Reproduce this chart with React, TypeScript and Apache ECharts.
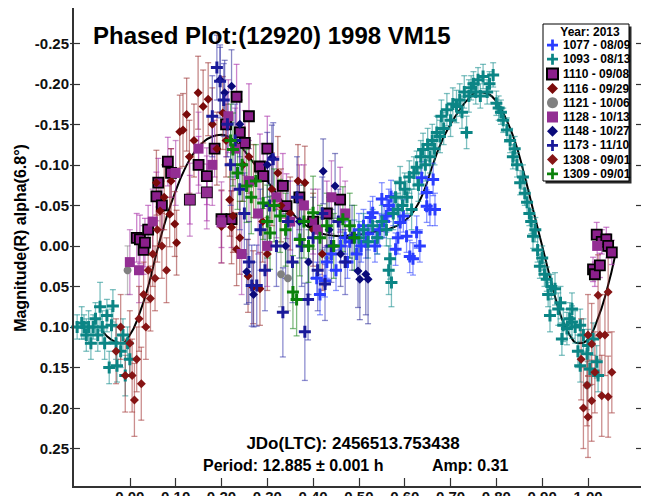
import React, { useEffect, useRef } from "react";
import * as echarts from "echarts";

// Phase axis and magnitude axis tick values
const xTicks = [0, 0.1, 0.2, 0.3, 0.4, 0.5, 0.6, 0.7, 0.8, 0.9, 1.0];
const yTicks = [-0.25, -0.2, -0.15, -0.1, -0.05, 0, 0.05, 0.1, 0.15, 0.2, 0.25];
const xRange = [-0.1306, 1.1266];
const yRange = [-0.2997, 0.2987];

// Each observation: [phase, magnitude, error]
const s1077 = [
  [0.408, 0.04, 0.02], [0.415, 0.06, 0.025], [0.426, 0.043, 0.02], [0.43, 0.02, 0.02],
  [0.44, 0.01, 0.02], [0.45, 0.03, 0.025], [0.46, 0.0, 0.02], [0.47, -0.01, 0.02],
  [0.475, 0.02, 0.02], [0.48, -0.005, 0.02], [0.49, -0.012, 0.02], [0.495, 0.01, 0.02],
  [0.5, -0.02, 0.02], [0.505, 0.0, 0.02], [0.51, -0.025, 0.02], [0.515, -0.005, 0.02],
  [0.52, -0.015, 0.02], [0.525, -0.035, 0.02], [0.53, -0.041, 0.02], [0.535, 0.0, 0.02],
  [0.54, -0.01, 0.02], [0.545, -0.02, 0.02], [0.55, -0.058, 0.02], [0.555, -0.03, 0.02],
  [0.56, -0.037, 0.02], [0.565, -0.05, 0.02], [0.57, -0.061, 0.02], [0.575, -0.045, 0.02],
  [0.58, 0.004, 0.02], [0.585, -0.01, 0.02], [0.59, -0.029, 0.02], [0.597, -0.037, 0.02],
  [0.604, -0.012, 0.02], [0.611, 0.013, 0.02], [0.618, 0.016, 0.02], [0.626, -0.017, 0.02],
  [0.633, 0.0, 0.02], [0.637, -0.084, 0.02], [0.648, -0.049, 0.02], [0.648, -0.066, 0.02],
  [0.655, -0.045, 0.02], [0.662, -0.082, 0.02], [0.666, -0.045, 0.02],
];
const s1093 = [
  [-0.115, 0.1, 0.015], [-0.105, 0.095, 0.02], [-0.1, 0.1, 0.015], [-0.095, 0.11, 0.02],
  [-0.09, 0.1, 0.02], [-0.085, 0.12, 0.02], [-0.08, 0.1, 0.015], [-0.075, 0.09, 0.02],
  [-0.07, 0.11, 0.02], [-0.065, 0.075, 0.03], [-0.06, 0.1, 0.02], [-0.055, 0.12, 0.02],
  [-0.05, 0.086, 0.02], [-0.045, 0.15, 0.02], [-0.04, 0.098, 0.02], [-0.037, 0.074, 0.02],
  [-0.03, 0.12, 0.02], [-0.028, 0.148, 0.02], [-0.02, 0.13, 0.02], [-0.015, 0.11, 0.02],
  [-0.01, 0.16, 0.025], [-0.005, 0.12, 0.02], [0.0, 0.14, 0.02],
  [0.5, -0.01, 0.02], [0.51, -0.02, 0.02], [0.52, -0.005, 0.02], [0.53, -0.025, 0.02],
  [0.54, -0.01, 0.02], [0.55, -0.03, 0.02], [0.56, -0.02, 0.02], [0.565, 0.03, 0.03],
  [0.568, 0.016, 0.025], [0.571, 0.045, 0.03], [0.575, -0.04, 0.02], [0.58, -0.06, 0.02],
  [0.585, -0.045, 0.02], [0.59, -0.078, 0.02], [0.595, -0.05, 0.02], [0.6, -0.07, 0.02],
  [0.605, -0.06, 0.02], [0.61, -0.085, 0.02], [0.615, -0.045, 0.025], [0.62, -0.09, 0.02],
  [0.626, -0.097, 0.02], [0.63, -0.075, 0.02], [0.635, -0.11, 0.02], [0.64, -0.119, 0.02],
  [0.645, -0.1, 0.02], [0.65, -0.125, 0.02], [0.655, -0.11, 0.02], [0.66, -0.13, 0.02],
  [0.665, -0.12, 0.02], [0.67, -0.14, 0.02], [0.677, -0.135, 0.02], [0.68, -0.16, 0.02],
  [0.685, -0.145, 0.02], [0.692, -0.168, 0.02], [0.7, -0.155, 0.02], [0.705, -0.175, 0.02],
  [0.713, -0.172, 0.02], [0.72, -0.18, 0.02], [0.725, -0.165, 0.02], [0.73, -0.19, 0.02],
  [0.735, -0.14, 0.02], [0.74, -0.185, 0.02], [0.745, -0.195, 0.015], [0.75, -0.2, 0.015],
  [0.755, -0.19, 0.015], [0.76, -0.205, 0.015], [0.765, -0.185, 0.015], [0.771, -0.209, 0.015],
  [0.78, -0.19, 0.015], [0.785, -0.2, 0.015], [0.793, -0.211, 0.015], [0.8, -0.176, 0.015],
  [0.805, -0.17, 0.015], [0.81, -0.165, 0.015], [0.815, -0.155, 0.015], [0.823, -0.143, 0.015],
  [0.83, -0.13, 0.015], [0.836, -0.11, 0.015], [0.84, -0.12, 0.015], [0.845, -0.1, 0.015],
  [0.852, -0.078, 0.015], [0.858, -0.085, 0.015], [0.862, -0.065, 0.015], [0.867, -0.054, 0.015],
  [0.872, -0.04, 0.015], [0.876, -0.03, 0.015], [0.88, -0.012, 0.015], [0.885, -0.02, 0.015],
  [0.89, 0.005, 0.015], [0.895, 0.025, 0.015], [0.9, 0.015, 0.015], [0.905, 0.035, 0.015],
  [0.91, 0.041, 0.015], [0.913, 0.06, 0.015], [0.917, 0.086, 0.02], [0.92, 0.05, 0.015],
  [0.928, 0.053, 0.02], [0.935, 0.078, 0.02], [0.94, 0.07, 0.02], [0.943, 0.115, 0.02],
  [0.946, 0.098, 0.02], [0.954, 0.102, 0.02], [0.96, 0.09, 0.02], [0.965, 0.094, 0.02],
  [0.965, 0.078, 0.02], [0.972, 0.1, 0.02], [0.978, 0.13, 0.02], [0.983, 0.098, 0.02],
  [0.983, 0.148, 0.02], [0.99, 0.11, 0.02], [0.998, 0.133, 0.02], [1.0, 0.123, 0.02],
  [1.004, 0.152, 0.02], [1.011, 0.115, 0.02], [1.019, 0.143, 0.02], [1.022, 0.16, 0.02],
];
const s1110 = [
  [0.015, -0.01, 0.03], [0.022, -0.008, 0.03], [0.03, 0.005, 0.03], [0.033, -0.004, 0.03],
  [0.04, -0.02, 0.03], [0.058, -0.061, 0.03], [0.062, -0.078, 0.03], [0.07, -0.05, 0.03],
  [0.083, -0.104, 0.03], [0.09, -0.09, 0.03], [0.131, -0.057, 0.03], [0.15, -0.1, 0.035],
  [0.168, -0.066, 0.035], [0.168, -0.086, 0.035], [0.185, -0.12, 0.035], [0.2, -0.033, 0.035],
  [0.21, -0.15, 0.04], [0.222, -0.033, 0.035], [0.233, -0.184, 0.04], [0.24, -0.14, 0.04],
  [0.251, -0.127, 0.04], [0.26, -0.16, 0.04], [0.284, -0.098, 0.04], [0.291, -0.086, 0.04],
  [0.3, -0.12, 0.04], [0.334, -0.074, 0.04], [0.342, -0.049, 0.04], [0.37, -0.06, 0.04],
  [0.4, -0.03, 0.04], [0.43, -0.04, 0.04], [0.459, -0.057, 0.04],
  [1.011, 0.029, 0.015], [1.015, 0.035, 0.015], [1.019, -0.014, 0.015], [1.026, 0.024, 0.015],
  [1.03, -0.005, 0.015], [1.04, -0.008, 0.015], [1.044, 0.0, 0.015], [1.052, 0.008, 0.015],
];
const s1116 = [
  [0.058, -0.078, 0.04], [0.066, -0.043, 0.04], [0.075, -0.06, 0.04], [0.087, -0.039, 0.04],
  [0.09, -0.08, 0.04], [0.098, -0.027, 0.04], [0.102, -0.004, 0.04], [0.109, -0.141, 0.045],
  [0.116, -0.143, 0.045], [0.124, -0.162, 0.045], [0.13, -0.11, 0.045], [0.14, -0.13, 0.045],
  [0.149, -0.189, 0.045], [0.16, -0.172, 0.045], [0.171, -0.181, 0.045], [0.18, -0.15, 0.045],
  [0.19, -0.12, 0.045], [0.2, -0.024, 0.045], [0.203, -0.164, 0.045], [0.21, -0.13, 0.045],
  [0.218, -0.057, 0.045], [0.222, -0.023, 0.045], [0.225, -0.037, 0.045], [0.233, 0.004, 0.045],
  [0.24, -0.01, 0.045], [0.247, -0.1, 0.045], [0.258, 0.037, 0.045], [0.26, -0.11, 0.045],
  [0.269, 0.051, 0.045], [0.27, -0.08, 0.045], [0.284, 0.053, 0.045], [0.29, -0.03, 0.05],
  [0.3, 0.01, 0.045], [0.31, -0.07, 0.045], [0.323, -0.09, 0.045], [0.33, -0.05, 0.045],
  [0.35, -0.04, 0.045], [0.367, -0.08, 0.045], [0.382, -0.078, 0.045], [0.4, -0.02, 0.045],
  [0.42, 0.01, 0.045],
];
const s1121 = [
  [-0.005, 0.03, 0.03], [0.33, 0.035, 0.04], [0.345, 0.04, 0.04], [0.998, 0.172, 0.03],
];
const s1128 = [
  [0.0, 0.02, 0.04], [0.02, 0.03, 0.04], [0.05, -0.03, 0.04], [0.1, -0.09, 0.04],
  [0.131, -0.057, 0.045], [0.15, -0.12, 0.045], [0.168, -0.066, 0.045], [0.18, -0.1, 0.05],
  [0.2, -0.029, 0.05], [0.215, -0.16, 0.045], [0.23, -0.12, 0.05], [0.244, 0.01, 0.05],
  [0.26, -0.08, 0.05], [0.28, -0.04, 0.05], [0.3, 0.0, 0.05], [0.32, -0.06, 0.05],
  [0.35, -0.03, 0.05], [0.38, -0.05, 0.05], [0.41, -0.02, 0.05], [0.44, -0.06, 0.045],
  [0.47, -0.04, 0.04], [1.02, 0.0, 0.02],
];
const s1148 = [
  [0.197, -0.205, 0.04], [0.207, -0.189, 0.04], [0.222, -0.197, 0.045], [0.24, -0.15, 0.04],
  [0.255, 0.032, 0.04], [0.27, 0.06, 0.04], [0.3, -0.1, 0.04], [0.31, -0.109, 0.04],
  [0.34, 0.0, 0.04], [0.37, -0.03, 0.045], [0.39, 0.02, 0.04], [0.422, -0.092, 0.04],
  [0.435, -0.02, 0.04], [0.448, -0.074, 0.04], [0.46, 0.01, 0.04], [0.498, 0.031, 0.045],
  [0.502, 0.041, 0.05], [0.515, 0.035, 0.05], [0.52, 0.041, 0.055],
];
const s1173 = [
  [0.18, -0.16, 0.05], [0.19, -0.22, 0.04], [0.197, -0.203, 0.045], [0.205, -0.18, 0.045],
  [0.213, -0.15, 0.04], [0.22, -0.1, 0.05], [0.23, -0.13, 0.045], [0.24, -0.07, 0.05],
  [0.25, -0.04, 0.05], [0.26, 0.02, 0.05], [0.266, 0.049, 0.05], [0.277, 0.049, 0.05],
  [0.285, -0.02, 0.05], [0.295, 0.03, 0.05], [0.305, -0.05, 0.05], [0.313, -0.107, 0.045],
  [0.32, 0.0, 0.05], [0.334, 0.082, 0.055], [0.345, -0.03, 0.05], [0.355, 0.02, 0.05],
  [0.365, -0.06, 0.05], [0.375, 0.0, 0.05], [0.382, 0.106, 0.06], [0.389, 0.066, 0.05],
  [0.4, -0.01, 0.05], [0.41, 0.03, 0.05], [0.42, -0.04, 0.045], [0.426, 0.047, 0.045],
  [0.44, 0.0, 0.045], [0.455, -0.03, 0.04], [0.47, 0.02, 0.04], [0.485, -0.01, 0.04],
];
const s1308 = [
  [-0.03, 0.13, 0.04], [-0.02, 0.1, 0.04], [-0.01, 0.16, 0.045], [0.0, 0.12, 0.04],
  [0.005, 0.16, 0.045], [0.01, 0.19, 0.045], [0.015, 0.14, 0.04], [0.02, 0.09, 0.04],
  [0.025, 0.17, 0.045], [0.03, 0.06, 0.04], [0.035, 0.1, 0.04], [0.04, 0.03, 0.04],
  [0.045, 0.065, 0.04], [0.05, 0.01, 0.04], [0.055, 0.04, 0.04], [0.06, -0.02, 0.04],
  [0.07, 0.0, 0.04], [0.08, 0.03, 0.04],
  [0.985, 0.14, 0.05], [0.99, 0.2, 0.05], [0.998, 0.172, 0.05], [1.0, 0.11, 0.05],
  [1.0, 0.211, 0.05], [1.008, 0.121, 0.05], [1.008, 0.191, 0.05], [1.015, 0.156, 0.05],
  [1.022, 0.061, 0.05], [1.026, 0.11, 0.05], [1.03, 0.185, 0.05], [1.037, 0.11, 0.05],
  [1.044, 0.057, 0.05], [1.044, 0.186, 0.05], [1.052, 0.156, 0.05],
];
const s1309 = [
  [0.22, -0.13, 0.045], [0.225, -0.119, 0.045], [0.235, -0.09, 0.045], [0.245, -0.1, 0.045],
  [0.255, -0.074, 0.045], [0.265, -0.06, 0.045], [0.275, -0.08, 0.045], [0.291, -0.053, 0.045],
  [0.3, -0.03, 0.045], [0.306, -0.016, 0.045], [0.315, -0.05, 0.045], [0.328, -0.037, 0.045],
  [0.34, -0.02, 0.045], [0.356, 0.057, 0.045], [0.364, 0.066, 0.045], [0.371, -0.008, 0.045],
  [0.38, -0.03, 0.045], [0.39, 0.0, 0.045], [0.4, -0.041, 0.045], [0.415, -0.01, 0.04],
  [0.43, -0.025, 0.04], [0.445, 0.0, 0.04], [0.465, -0.033, 0.04], [0.48, -0.025, 0.04],
  [0.49, -0.01, 0.04],
];

// Fitted lightcurve: [phase, magnitude]
const fitCurve = [
  [-0.06, 0.105], [-0.04, 0.116], [-0.02, 0.12], [0.0, 0.11], [0.02, 0.085], [0.04, 0.05],
  [0.06, 0.005], [0.08, -0.035], [0.1, -0.068], [0.12, -0.095], [0.14, -0.115], [0.16, -0.128],
  [0.18, -0.135], [0.2, -0.137], [0.22, -0.133], [0.24, -0.124], [0.26, -0.11], [0.28, -0.095],
  [0.3, -0.08], [0.32, -0.065], [0.34, -0.05], [0.36, -0.037], [0.38, -0.027], [0.4, -0.02],
  [0.42, -0.015], [0.44, -0.013], [0.46, -0.012], [0.48, -0.013], [0.5, -0.014], [0.52, -0.016],
  [0.54, -0.018], [0.56, -0.02], [0.58, -0.024], [0.6, -0.031], [0.62, -0.043], [0.64, -0.065],
  [0.66, -0.098], [0.68, -0.128], [0.7, -0.15], [0.72, -0.168], [0.74, -0.182], [0.76, -0.19],
  [0.78, -0.188], [0.8, -0.178], [0.82, -0.158], [0.84, -0.13], [0.86, -0.09], [0.88, -0.045],
  [0.9, 0.0], [0.92, 0.045], [0.94, 0.085], [0.96, 0.11], [0.98, 0.12], [1.0, 0.115],
  [1.02, 0.092], [1.04, 0.057], [1.06, 0.01],
];

const PLUS = "path://M4.5,0H7.5V4.5H12V7.5H7.5V12H4.5V7.5H0V4.5H4.5Z";
const FONT = "Liberation Sans, Arial, sans-serif";
const FRAME = "#333";

// Coordinate area (pixels) and the drawn frame just inside it
const AREA = { left: 70, top: 3, right: 646, bottom: 490 };
const FRAME_BOX = { left: 73, top: 6, right: 643, bottom: 487 };
const W = 649;
const H = 504;

const sessions = [
  { name: "1077 - 08/09", data: s1077, symbol: PLUS, size: 12, color: "#2a3dff", bar: "rgba(60,80,255,0.6)" },
  { name: "1093 - 08/13", data: s1093, symbol: PLUS, size: 12, color: "#0b8585", bar: "rgba(20,140,140,0.55)" },
  { name: "1110 - 09/08", data: s1110, symbol: "rect", size: 10, color: "#8b1f8b", border: "#000", bar: "rgba(170,50,170,0.6)" },
  { name: "1116 - 09/29", data: s1116, symbol: "diamond", size: 9, color: "#7a0a0a", bar: "rgba(150,40,40,0.55)" },
  { name: "1121 - 10/06", data: s1121, symbol: "circle", size: 8, color: "#808080", bar: "rgba(128,128,128,0.5)" },
  { name: "1128 - 10/13", data: s1128, symbol: "rect", size: 10, color: "#932e93", bar: "rgba(170,60,170,0.55)" },
  { name: "1148 - 10/27", data: s1148, symbol: "diamond", size: 9, color: "#0a0a7a", bar: "rgba(40,40,150,0.55)" },
  { name: "1173 - 11/10", data: s1173, symbol: PLUS, size: 12, color: "#1a1a9a", bar: "rgba(50,50,170,0.55)" },
  { name: "1308 - 09/01", data: s1308, symbol: "diamond", size: 9, color: "#861515", bar: "rgba(160,50,50,0.55)" },
  { name: "1309 - 09/01", data: s1309, symbol: PLUS, size: 12, color: "#0a820a", bar: "rgba(20,130,20,0.55)" },
];

function errorBarSeries(name: string, data: number[][], stroke: string) {
  return {
    name: name + " err",
    type: "custom",
    data,
    encode: { x: 0, y: 1 },
    z: 3,
    renderItem: (_params: any, api: any) => {
      const x = api.value(0);
      const y = api.value(1);
      const e = api.value(2);
      const a = api.coord([x, y - e]);
      const b = api.coord([x, y + e]);
      const cap = 3;
      const style = { stroke, lineWidth: 1.3 };
      return {
        type: "group",
        children: [
          { type: "line", shape: { x1: a[0], y1: a[1], x2: b[0], y2: b[1] }, style },
          { type: "line", shape: { x1: a[0] - cap, y1: a[1], x2: a[0] + cap, y2: a[1] }, style },
          { type: "line", shape: { x1: b[0] - cap, y1: b[1], x2: b[0] + cap, y2: b[1] }, style },
        ],
      };
    },
  };
}

const textEl = (x: number, y: number, text: string, size: number, align: string, extra: any = {}) => ({
  type: "text",
  z: 102,
  x,
  y,
  ...extra,
  style: { text, fontFamily: FONT, fontWeight: "bold", fontSize: size, fill: "#000", align, verticalAlign: "middle" },
});

// Frame border: four filled bars around the plot area, above the data
function frameBars() {
  const t = 2;
  const { left, top, right, bottom } = FRAME_BOX;
  const bar = (x: number, y: number, w: number, h: number) => ({
    type: "rect",
    z: 300,
    shape: { x, y, width: w, height: h },
    style: { fill: FRAME },
  });
  return [
    bar(left - 1, top - 1, right - left + t, t),
    bar(left - 1, bottom - 1, right - left + t, t),
    bar(left - 1, top - 1, t, bottom - top + t),
    bar(right - 1, top - 1, t, bottom - top + t),
  ];
}

export default function App() {
  const ref = useRef<HTMLDivElement>(null);

  useEffect(() => {
    if (!ref.current) return;
    const chart = echarts.init(ref.current, null, { renderer: "svg", width: W, height: H });

    const series: any[] = [
      {
        name: "fit",
        type: "line",
        data: fitCurve,
        smooth: true,
        showSymbol: false,
        z: 2,
        lineStyle: { color: "#000", width: 2 },
      },
    ];
    sessions.forEach((s) => {
      series.push(errorBarSeries(s.name, s.data, s.bar));
      series.push({
        name: s.name,
        type: "scatter",
        data: s.data.map((d) => [d[0], d[1]]),
        symbol: s.symbol,
        symbolSize: s.size,
        symbolKeepAspect: true,
        z: 4,
        itemStyle: {
          color: s.color,
          opacity: 1,
          borderColor: s.border || s.color,
          borderWidth: s.border ? 1.8 : 0,
        },
      });
    });

    const tickLabel = { fontFamily: FONT, fontWeight: "bold", fontSize: 15, color: "#111" };
    const innerTick = (values: number[]) => ({
      show: true,
      inside: true,
      length: 10,
      customValues: values,
      lineStyle: { color: FRAME, width: 1.2 },
    });
    const noLine = { show: false, onZero: false };

    chart.setOption({
      animation: false,
      backgroundColor: "#fff",
      grid: {
        left: AREA.left,
        top: AREA.top,
        width: AREA.right - AREA.left,
        height: AREA.bottom - AREA.top,
        containLabel: false,
      },
      xAxis: {
        type: "value",
        position: "bottom",
        min: xRange[0],
        max: xRange[1],
        axisLine: noLine,
        splitLine: { show: false },
        axisTick: innerTick(xTicks),
        axisLabel: { ...tickLabel, margin: 1, customValues: xTicks, formatter: (v: number) => v.toFixed(2) },
      },
      yAxis: [
        {
          type: "value",
          position: "left",
          inverse: true,
          min: yRange[0],
          max: yRange[1],
          axisLine: noLine,
          splitLine: { show: false },
          axisTick: innerTick(yTicks),
          axisLabel: { ...tickLabel, margin: 1, customValues: yTicks, formatter: (v: number) => v.toFixed(2) },
        },
        {
          type: "value",
          position: "right",
          inverse: true,
          min: yRange[0],
          max: yRange[1],
          axisLine: noLine,
          splitLine: { show: false },
          axisTick: innerTick(yTicks),
          axisLabel: { show: false },
        },
      ],
      legend: {
        orient: "vertical",
        left: 546,
        top: 39,
        padding: 0,
        itemWidth: 11,
        itemHeight: 11,
        itemGap: 2.2,
        z: 200,
        data: sessions.map((s) => s.name),
        textStyle: { fontFamily: FONT, fontWeight: "bold", fontSize: 12, color: "#000", lineHeight: 11 },
      },
      graphic: [
        ...frameBars(),
        { type: "rect", z: 100, shape: { x: 545.5, y: 26.5, width: 86, height: 157 }, style: { fill: "#2a2a2a" } },
        {
          type: "rect",
          z: 101,
          shape: { x: 543, y: 24, width: 86, height: 157 },
          style: { fill: "#fff", stroke: "#000", lineWidth: 1 },
        },
        textEl(590, 32, "Year: 2013", 12, "center"),
        textEl(93, 35, "Phased Plot:(12920) 1998 VM15", 24, "left"),
        textEl(20, 238, "Magnitude(R) alpha(6.8°)", 16, "center", { rotation: Math.PI / 2 }),
        textEl(353, 443, "JDo(LTC): 2456513.753438", 17, "center"),
        textEl(203, 465, "Period: 12.885 ± 0.001 h", 16, "left"),
        textEl(432, 465, "Amp: 0.31", 16, "left"),
      ],
      series,
    });

    return () => chart.dispose();
  }, []);

  return <div ref={ref} style={{ width: W, height: H, margin: -8 }} />;
}
